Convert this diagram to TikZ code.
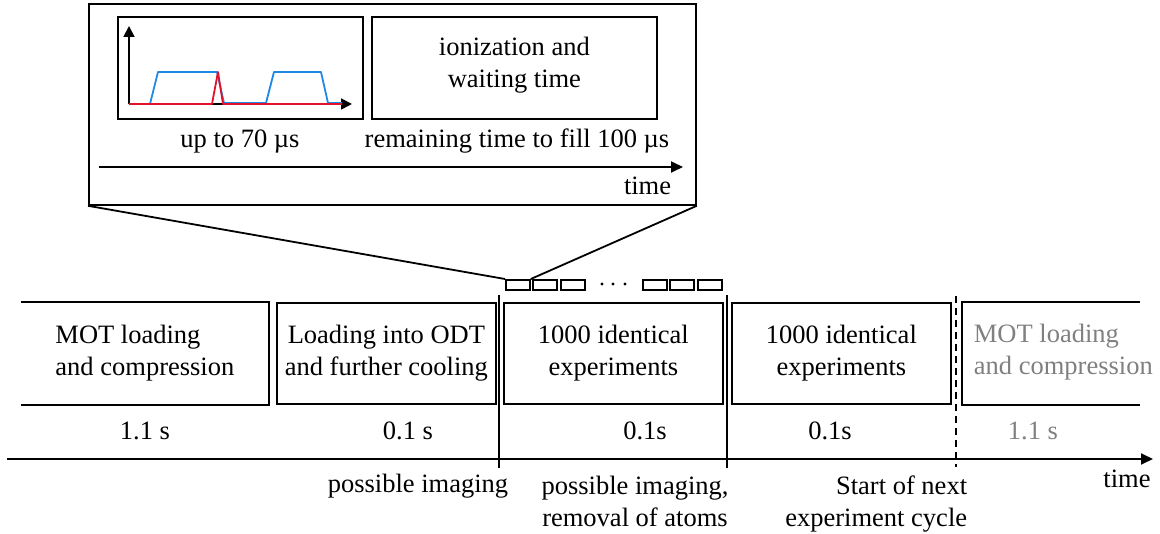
\documentclass[tikz,border=0pt]{standalone}
\usepackage{fontspec}
\setmainfont{Liberation Serif}
\newfontfamily\timesfont{Liberation Serif}
\usetikzlibrary{arrows.meta}
\definecolor{plotblue}{RGB}{30,136,229}
\definecolor{plotred}{RGB}{228,18,40}
\definecolor{fadegray}{RGB}{128,128,128}
\begin{document}
\begin{tikzpicture}[x=1pt,y=-1pt,line width=1.8pt,
  txt/.style={font=\timesfont\fontsize{26.5}{32}\selectfont,inner sep=0pt,align=center},
  frame/.style={draw,inner sep=0pt,anchor=north west},
  blank/.style={inner sep=0pt,anchor=north west},
  tick/.style={line width=1.8pt},
  axisarrow/.style={-{Triangle[length=12pt,width=11pt]}},
  smallbox/.style={draw,inner sep=0pt,anchor=north west,minimum width=24pt,minimum height=10pt}
]
\useasboundingbox (0,0) rectangle (1160,534);

% ---------- main time line ----------
\node[blank,minimum width=246pt,minimum height=101pt] (mot) at (21,302) {};
\draw (mot.north west) -- (mot.north east) -- (mot.south east) -- (mot.south west);
\node[txt,align=left] (mott) at (mot.center) {MOT loading\\and compression};

\node[frame,minimum width=219pt,minimum height=101pt] (odt) at (276,302) {};
\node[txt] (odtt) at (odt.center) {Loading into ODT\\and further cooling};

\node[frame,minimum width=219pt,minimum height=101pt] (exa) at (503,302) {};
\node[txt] (exat) at (exa.center) {1000 identical\\experiments};

\node[frame,minimum width=219pt,minimum height=101pt] (exb) at (731,302) {};
\node[txt] (exbt) at (exb.center) {1000 identical\\experiments};

\node[blank,minimum width=176pt,minimum height=101pt] (nxt) at (962,302) {};
\draw (nxt.north east) -- (nxt.north west) -- (nxt.south west) -- (nxt.south east);
\node[txt,align=left,anchor=west,text=fadegray] (nxtt) at (973,352.5) {MOT loading\\and compression};

% durations
\node[txt,anchor=base] (d1) at (145,440) {1.1 s};
\node[txt,anchor=base] (d2) at (408,440) {0.1 s};
\node[txt,anchor=base] (d3) at (645,440) {0.1s};
\node[txt,anchor=base] (d4) at (830,440) {0.1s};
\node[txt,anchor=base,text=fadegray] (d5) at (1033,440) {1.1 s};

% axis
\coordinate (ax0) at (7,459);
\coordinate (ax1) at (1153,459);
\draw[axisarrow] (ax0) -- (ax1);

% markers
\coordinate (m1t) at (499,295); \coordinate (m1b) at (499,468);
\coordinate (m2t) at (727,295); \coordinate (m2b) at (727,468);
\coordinate (m3t) at (956,296); \coordinate (m3b) at (956,467);
\draw[tick] (m1t) -- (m1b);
\draw[tick] (m2t) -- (m2b);
\draw[tick,dash pattern=on 7pt off 5pt] (m3t) -- (m3b);

% labels under axis
\node[txt,anchor=base] (l1) at (418,493) {possible imaging};
\node[txt,anchor=north] (l2) at (635,475) {possible imaging,\\removal of atoms};
\node[txt,anchor=north east,align=right] (l3) at (968,475) {Start of next\\experiment cycle};
\node[txt,anchor=base] (l4) at (1127,488) {time};

% small boxes
\node[smallbox] (s1) at (505,279) {};
\node[smallbox] (s2) at (532,279) {};
\node[smallbox] (s3) at (560,279) {};
\node[smallbox] (s4) at (642,279) {};
\node[smallbox] (s5) at (669,279) {};
\node[smallbox] (s6) at (697,279) {};
\fill (602,284) circle (1.6pt) (613,284) circle (1.6pt) (625,284) circle (1.6pt);

% ---------- inset ----------
\node[frame,minimum width=607pt,minimum height=201pt] (inset) at (88,3) {};
\draw (inset.south west) -- (s1.north west);
\draw (inset.south east) -- (s1.north east);

\node[frame,minimum width=245pt,minimum height=102pt] (plot) at (117,16) {};
\node[frame,minimum width=285pt,minimum height=102pt] (ion) at (371,16) {};
\node[txt] (iont) at ([yshift=3pt]ion.center) {ionization and\\waiting time};

\node[txt,anchor=base] (u1) at (240,148) {up to 70 µs};
\node[txt,anchor=base] (u2) at (517,148) {remaining time to fill 100 µs};
\coordinate (ia0) at (99,167);
\coordinate (ia1) at (683,167);
\draw[axisarrow] (ia0) -- (ia1);
\node[txt,anchor=base east] (u3) at (672,195) {time};

% plot contents
\coordinate (o) at (129,104);
\coordinate (ytip) at (129,26);
\coordinate (xtip) at (352,104);
\draw[-{Triangle[length=11pt,width=11pt]}] (o) -- (ytip);
\draw[-{Triangle[length=11pt,width=11pt]}] (o) -- (xtip);
\draw[plotblue,line width=1.8pt,line join=round] (129,104) -- (150,104) -- (158,72) -- (217,72) -- (224,103) -- (266,103) -- (274,72) -- (321,72) -- (328,103) -- (342,103);
\draw[plotred,line width=1.8pt,line join=round] (129,104) -- (212,104) -- (218,72) -- (223,104) -- (342,104);
\end{tikzpicture}
\end{document}
